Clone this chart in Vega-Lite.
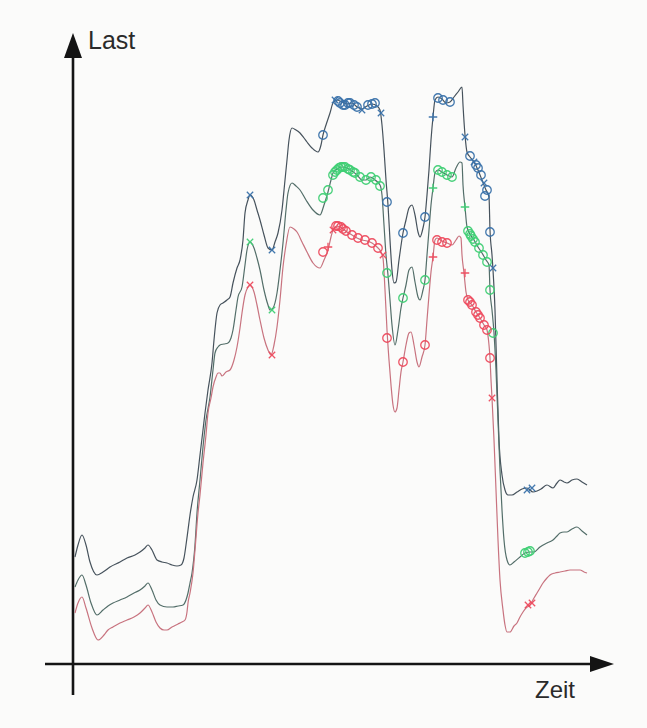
{
"$schema": "https://vega.github.io/schema/vega-lite/v6.json",
"width": 569, "height": 662,
"autosize": {"type": "none"},
"padding": {"left": 45, "top": 33, "right": 33, "bottom": 33},
"background": "#fbfbfa",
"config": {"view": {"stroke": null}},
"datasets": {
"lines": [
{"s":"B","t":2,"l":107},{"s":"B","t":5,"l":119},{"s":"B","t":9,"l":129},{"s":"B","t":13,"l":119},{"s":"B","t":17,"l":102},{"s":"B","t":24,"l":89},{"s":"B","t":30,"l":92},{"s":"B","t":37,"l":97},{"s":"B","t":47,"l":102},{"s":"B","t":54,"l":106},{"s":"B","t":62,"l":109},{"s":"B","t":67,"l":112},{"s":"B","t":72,"l":116},{"s":"B","t":75,"l":119},{"s":"B","t":79,"l":114},{"s":"B","t":84,"l":104},{"s":"B","t":89,"l":102},{"s":"B","t":94,"l":101},{"s":"B","t":99,"l":99},{"s":"B","t":104,"l":98},{"s":"B","t":108,"l":99},{"s":"B","t":111,"l":106},{"s":"B","t":113,"l":119},{"s":"B","t":115,"l":134},{"s":"B","t":117,"l":149},{"s":"B","t":120,"l":167},{"s":"B","t":124,"l":184},{"s":"B","t":127,"l":209},{"s":"B","t":130,"l":234},{"s":"B","t":132,"l":251},{"s":"B","t":135,"l":274},{"s":"B","t":139,"l":301},{"s":"B","t":141,"l":324},{"s":"B","t":144,"l":351},{"s":"B","t":147,"l":359},{"s":"B","t":150,"l":361},{"s":"B","t":154,"l":364},{"s":"B","t":157,"l":367},{"s":"B","t":160,"l":381},{"s":"B","t":164,"l":396},{"s":"B","t":167,"l":404},{"s":"B","t":170,"l":424},{"s":"B","t":172,"l":451},{"s":"B","t":175,"l":464},{"s":"B","t":177,"l":469},{"s":"B","t":181,"l":464},{"s":"B","t":184,"l":454},{"s":"B","t":187,"l":444},{"s":"B","t":191,"l":429},{"s":"B","t":195,"l":416},{"s":"B","t":199,"l":414},{"s":"B","t":202,"l":422},{"s":"B","t":205,"l":431},{"s":"B","t":209,"l":454},{"s":"B","t":212,"l":484},{"s":"B","t":214,"l":504},{"s":"B","t":216,"l":524},{"s":"B","t":219,"l":536},{"s":"B","t":223,"l":534},{"s":"B","t":227,"l":531},{"s":"B","t":231,"l":526},{"s":"B","t":234,"l":522},{"s":"B","t":239,"l":516},{"s":"B","t":245,"l":512},{"s":"B","t":248,"l":519},{"s":"B","t":250,"l":529},{"s":"B","t":253,"l":539},{"s":"B","t":257,"l":551},{"s":"B","t":260,"l":561},{"s":"B","t":264,"l":564},{"s":"B","t":269,"l":562},{"s":"B","t":274,"l":560},{"s":"B","t":279,"l":561},{"s":"B","t":284,"l":557},{"s":"B","t":289,"l":555},{"s":"B","t":294,"l":558},{"s":"B","t":299,"l":560},{"s":"B","t":304,"l":558},{"s":"B","t":307,"l":554},{"s":"B","t":309,"l":539},{"s":"B","t":311,"l":514},{"s":"B","t":313,"l":484},{"s":"B","t":315,"l":459},{"s":"B","t":317,"l":424},{"s":"B","t":319,"l":394},{"s":"B","t":321,"l":381},{"s":"B","t":323,"l":382},{"s":"B","t":326,"l":404},{"s":"B","t":330,"l":431},{"s":"B","t":333,"l":444},{"s":"B","t":336,"l":456},{"s":"B","t":339,"l":459},{"s":"B","t":342,"l":449},{"s":"B","t":345,"l":432},{"s":"B","t":347,"l":427},{"s":"B","t":350,"l":436},{"s":"B","t":352,"l":447},{"s":"B","t":354,"l":469},{"s":"B","t":356,"l":494},{"s":"B","t":358,"l":524},{"s":"B","t":360,"l":547},{"s":"B","t":362,"l":564},{"s":"B","t":365,"l":567},{"s":"B","t":369,"l":565},{"s":"B","t":373,"l":561},{"s":"B","t":377,"l":562},{"s":"B","t":381,"l":567},{"s":"B","t":385,"l":572},{"s":"B","t":389,"l":577},{"s":"B","t":390,"l":559},{"s":"B","t":392,"l":529},{"s":"B","t":394,"l":512},{"s":"B","t":397,"l":507},{"s":"B","t":401,"l":502},{"s":"B","t":405,"l":494},{"s":"B","t":409,"l":484},{"s":"B","t":413,"l":474},{"s":"B","t":416,"l":467},{"s":"B","t":417,"l":434},{"s":"B","t":419,"l":409},{"s":"B","t":420,"l":394},{"s":"B","t":422,"l":354},{"s":"B","t":424,"l":284},{"s":"B","t":426,"l":224},{"s":"B","t":429,"l":189},{"s":"B","t":432,"l":174},{"s":"B","t":435,"l":169},{"s":"B","t":439,"l":169},{"s":"B","t":444,"l":172},{"s":"B","t":449,"l":175},{"s":"B","t":454,"l":176},{"s":"B","t":460,"l":172},{"s":"B","t":464,"l":173},{"s":"B","t":468,"l":175},{"s":"B","t":474,"l":179},{"s":"B","t":480,"l":176},{"s":"B","t":484,"l":181},{"s":"B","t":487,"l":184},{"s":"B","t":491,"l":182},{"s":"B","t":494,"l":181},{"s":"B","t":499,"l":184},{"s":"B","t":504,"l":185},{"s":"B","t":509,"l":182},{"s":"B","t":514,"l":179},
{"s":"G","t":2,"l":77},{"s":"G","t":5,"l":84},{"s":"G","t":9,"l":89},{"s":"G","t":13,"l":79},{"s":"G","t":18,"l":61},{"s":"G","t":24,"l":49},{"s":"G","t":30,"l":54},{"s":"G","t":35,"l":58},{"s":"G","t":40,"l":61},{"s":"G","t":47,"l":64},{"s":"G","t":54,"l":67},{"s":"G","t":61,"l":71},{"s":"G","t":67,"l":74},{"s":"G","t":72,"l":78},{"s":"G","t":75,"l":81},{"s":"G","t":79,"l":74},{"s":"G","t":83,"l":64},{"s":"G","t":87,"l":59},{"s":"G","t":94,"l":57},{"s":"G","t":100,"l":57},{"s":"G","t":105,"l":58},{"s":"G","t":110,"l":59},{"s":"G","t":113,"l":64},{"s":"G","t":115,"l":71},{"s":"G","t":117,"l":81},{"s":"G","t":119,"l":91},{"s":"G","t":122,"l":119},{"s":"G","t":124,"l":151},{"s":"G","t":127,"l":184},{"s":"G","t":130,"l":217},{"s":"G","t":133,"l":244},{"s":"G","t":137,"l":267},{"s":"G","t":140,"l":294},{"s":"G","t":142,"l":311},{"s":"G","t":145,"l":317},{"s":"G","t":147,"l":319},{"s":"G","t":151,"l":320},{"s":"G","t":155,"l":321},{"s":"G","t":158,"l":326},{"s":"G","t":160,"l":334},{"s":"G","t":163,"l":354},{"s":"G","t":165,"l":367},{"s":"G","t":169,"l":377},{"s":"G","t":172,"l":399},{"s":"G","t":174,"l":414},{"s":"G","t":177,"l":422},{"s":"G","t":181,"l":416},{"s":"G","t":184,"l":406},{"s":"G","t":187,"l":394},{"s":"G","t":191,"l":374},{"s":"G","t":195,"l":359},{"s":"G","t":197,"l":354},{"s":"G","t":200,"l":356},{"s":"G","t":204,"l":371},{"s":"G","t":207,"l":394},{"s":"G","t":210,"l":421},{"s":"G","t":213,"l":454},{"s":"G","t":215,"l":471},{"s":"G","t":219,"l":481},{"s":"G","t":223,"l":478},{"s":"G","t":227,"l":474},{"s":"G","t":233,"l":464},{"s":"G","t":240,"l":454},{"s":"G","t":247,"l":449},{"s":"G","t":251,"l":459},{"s":"G","t":255,"l":472},{"s":"G","t":258,"l":484},{"s":"G","t":260,"l":491},{"s":"G","t":264,"l":495},{"s":"G","t":269,"l":497},{"s":"G","t":274,"l":496},{"s":"G","t":279,"l":493},{"s":"G","t":284,"l":489},{"s":"G","t":289,"l":484},{"s":"G","t":293,"l":484},{"s":"G","t":297,"l":487},{"s":"G","t":302,"l":484},{"s":"G","t":307,"l":479},{"s":"G","t":309,"l":469},{"s":"G","t":311,"l":439},{"s":"G","t":313,"l":409},{"s":"G","t":315,"l":389},{"s":"G","t":317,"l":364},{"s":"G","t":319,"l":339},{"s":"G","t":322,"l":319},{"s":"G","t":325,"l":334},{"s":"G","t":328,"l":356},{"s":"G","t":330,"l":366},{"s":"G","t":333,"l":379},{"s":"G","t":336,"l":394},{"s":"G","t":339,"l":397},{"s":"G","t":342,"l":382},{"s":"G","t":345,"l":367},{"s":"G","t":347,"l":364},{"s":"G","t":350,"l":374},{"s":"G","t":352,"l":384},{"s":"G","t":354,"l":409},{"s":"G","t":356,"l":434},{"s":"G","t":358,"l":459},{"s":"G","t":360,"l":476},{"s":"G","t":362,"l":491},{"s":"G","t":365,"l":494},{"s":"G","t":369,"l":492},{"s":"G","t":374,"l":489},{"s":"G","t":379,"l":487},{"s":"G","t":383,"l":496},{"s":"G","t":387,"l":502},{"s":"G","t":389,"l":501},{"s":"G","t":390,"l":479},{"s":"G","t":392,"l":457},{"s":"G","t":394,"l":437},{"s":"G","t":397,"l":430},{"s":"G","t":401,"l":424},{"s":"G","t":405,"l":417},{"s":"G","t":409,"l":411},{"s":"G","t":413,"l":404},{"s":"G","t":416,"l":399},{"s":"G","t":417,"l":374},{"s":"G","t":419,"l":354},{"s":"G","t":421,"l":331},{"s":"G","t":423,"l":294},{"s":"G","t":425,"l":244},{"s":"G","t":427,"l":194},{"s":"G","t":429,"l":154},{"s":"G","t":431,"l":124},{"s":"G","t":434,"l":104},{"s":"G","t":437,"l":99},{"s":"G","t":441,"l":102},{"s":"G","t":447,"l":107},{"s":"G","t":452,"l":111},{"s":"G","t":457,"l":112},{"s":"G","t":461,"l":112},{"s":"G","t":467,"l":117},{"s":"G","t":474,"l":121},{"s":"G","t":480,"l":124},{"s":"G","t":484,"l":128},{"s":"G","t":487,"l":131},{"s":"G","t":491,"l":132},{"s":"G","t":494,"l":132},{"s":"G","t":499,"l":135},{"s":"G","t":504,"l":137},{"s":"G","t":509,"l":133},{"s":"G","t":514,"l":129},
{"s":"R","t":2,"l":51},{"s":"R","t":5,"l":61},{"s":"R","t":9,"l":67},{"s":"R","t":13,"l":56},{"s":"R","t":19,"l":36},{"s":"R","t":25,"l":24},{"s":"R","t":31,"l":29},{"s":"R","t":35,"l":34},{"s":"R","t":40,"l":37},{"s":"R","t":47,"l":41},{"s":"R","t":54,"l":44},{"s":"R","t":61,"l":47},{"s":"R","t":67,"l":51},{"s":"R","t":72,"l":56},{"s":"R","t":75,"l":59},{"s":"R","t":79,"l":52},{"s":"R","t":83,"l":42},{"s":"R","t":87,"l":36},{"s":"R","t":91,"l":34},{"s":"R","t":94,"l":34},{"s":"R","t":99,"l":37},{"s":"R","t":105,"l":40},{"s":"R","t":109,"l":42},{"s":"R","t":112,"l":44},{"s":"R","t":114,"l":52},{"s":"R","t":115,"l":61},{"s":"R","t":117,"l":71},{"s":"R","t":120,"l":91},{"s":"R","t":122,"l":114},{"s":"R","t":125,"l":151},{"s":"R","t":127,"l":169},{"s":"R","t":130,"l":201},{"s":"R","t":133,"l":229},{"s":"R","t":135,"l":251},{"s":"R","t":138,"l":266},{"s":"R","t":140,"l":277},{"s":"R","t":143,"l":287},{"s":"R","t":145,"l":291},{"s":"R","t":147,"l":291},{"s":"R","t":149,"l":288},{"s":"R","t":153,"l":292},{"s":"R","t":157,"l":294},{"s":"R","t":161,"l":304},{"s":"R","t":164,"l":317},{"s":"R","t":167,"l":336},{"s":"R","t":169,"l":351},{"s":"R","t":172,"l":369},{"s":"R","t":175,"l":377},{"s":"R","t":177,"l":379},{"s":"R","t":181,"l":372},{"s":"R","t":184,"l":359},{"s":"R","t":187,"l":344},{"s":"R","t":191,"l":326},{"s":"R","t":195,"l":314},{"s":"R","t":198,"l":309},{"s":"R","t":201,"l":319},{"s":"R","t":204,"l":337},{"s":"R","t":207,"l":364},{"s":"R","t":210,"l":397},{"s":"R","t":213,"l":419},{"s":"R","t":217,"l":437},{"s":"R","t":221,"l":435},{"s":"R","t":224,"l":432},{"s":"R","t":229,"l":422},{"s":"R","t":234,"l":412},{"s":"R","t":240,"l":401},{"s":"R","t":247,"l":396},{"s":"R","t":251,"l":404},{"s":"R","t":255,"l":414},{"s":"R","t":258,"l":427},{"s":"R","t":260,"l":434},{"s":"R","t":264,"l":438},{"s":"R","t":269,"l":436},{"s":"R","t":274,"l":432},{"s":"R","t":279,"l":429},{"s":"R","t":284,"l":426},{"s":"R","t":289,"l":424},{"s":"R","t":294,"l":423},{"s":"R","t":299,"l":421},{"s":"R","t":304,"l":417},{"s":"R","t":308,"l":412},{"s":"R","t":310,"l":406},{"s":"R","t":312,"l":374},{"s":"R","t":314,"l":334},{"s":"R","t":316,"l":304},{"s":"R","t":318,"l":279},{"s":"R","t":320,"l":259},{"s":"R","t":322,"l":252},{"s":"R","t":324,"l":256},{"s":"R","t":326,"l":274},{"s":"R","t":328,"l":292},{"s":"R","t":330,"l":302},{"s":"R","t":333,"l":319},{"s":"R","t":336,"l":331},{"s":"R","t":338,"l":332},{"s":"R","t":341,"l":319},{"s":"R","t":344,"l":302},{"s":"R","t":346,"l":297},{"s":"R","t":349,"l":307},{"s":"R","t":352,"l":319},{"s":"R","t":354,"l":344},{"s":"R","t":356,"l":369},{"s":"R","t":358,"l":392},{"s":"R","t":360,"l":407},{"s":"R","t":362,"l":424},{"s":"R","t":364,"l":426},{"s":"R","t":369,"l":423},{"s":"R","t":374,"l":421},{"s":"R","t":379,"l":419},{"s":"R","t":383,"l":424},{"s":"R","t":386,"l":428},{"s":"R","t":388,"l":426},{"s":"R","t":389,"l":409},{"s":"R","t":391,"l":391},{"s":"R","t":393,"l":372},{"s":"R","t":395,"l":364},{"s":"R","t":399,"l":359},{"s":"R","t":403,"l":352},{"s":"R","t":407,"l":346},{"s":"R","t":411,"l":339},{"s":"R","t":414,"l":334},{"s":"R","t":416,"l":319},{"s":"R","t":417,"l":306},{"s":"R","t":418,"l":284},{"s":"R","t":419,"l":266},{"s":"R","t":421,"l":224},{"s":"R","t":423,"l":174},{"s":"R","t":425,"l":124},{"s":"R","t":427,"l":84},{"s":"R","t":430,"l":54},{"s":"R","t":432,"l":39},{"s":"R","t":434,"l":32},{"s":"R","t":437,"l":32},{"s":"R","t":441,"l":38},{"s":"R","t":444,"l":41},{"s":"R","t":447,"l":47},{"s":"R","t":450,"l":52},{"s":"R","t":453,"l":56},{"s":"R","t":457,"l":59},{"s":"R","t":461,"l":66},{"s":"R","t":464,"l":71},{"s":"R","t":467,"l":76},{"s":"R","t":470,"l":81},{"s":"R","t":474,"l":86},{"s":"R","t":477,"l":89},{"s":"R","t":482,"l":91},{"s":"R","t":487,"l":92},{"s":"R","t":492,"l":93},{"s":"R","t":497,"l":94},{"s":"R","t":502,"l":94},{"s":"R","t":507,"l":94},{"s":"R","t":511,"l":92},{"s":"R","t":514,"l":91}
],
"marks": [
{"s":"B","m":"x","t":177,"l":469},{"s":"B","m":"x","t":199,"l":414},{"s":"B","m":"o","t":250,"l":529},{"s":"B","m":"x","t":262,"l":564},{"s":"B","m":"o","t":265,"l":563},{"s":"B","m":"o","t":267,"l":561},{"s":"B","m":"o","t":270,"l":559},{"s":"B","m":"o","t":272,"l":559},{"s":"B","m":"o","t":275,"l":561},{"s":"B","m":"o","t":277,"l":561},{"s":"B","m":"o","t":281,"l":559},{"s":"B","m":"o","t":284,"l":557},{"s":"B","m":"x","t":289,"l":554},{"s":"B","m":"o","t":295,"l":559},{"s":"B","m":"o","t":299,"l":560},{"s":"B","m":"o","t":302,"l":561},{"s":"B","m":"x","t":308,"l":551},{"s":"B","m":"o","t":314,"l":462},{"s":"B","m":"o","t":330,"l":431},{"s":"B","m":"o","t":352,"l":447},{"s":"B","m":"+","t":360,"l":547},{"s":"B","m":"o","t":365,"l":566},{"s":"B","m":"o","t":370,"l":564},{"s":"B","m":"o","t":377,"l":562},{"s":"B","m":"x","t":392,"l":527},{"s":"B","m":"o","t":397,"l":508},{"s":"B","m":"x","t":401,"l":502},{"s":"B","m":"o","t":403,"l":499},{"s":"B","m":"o","t":405,"l":496},{"s":"B","m":"o","t":408,"l":489},{"s":"B","m":"x","t":411,"l":481},{"s":"B","m":"o","t":414,"l":474},{"s":"B","m":"o","t":412,"l":468},{"s":"B","m":"o","t":417,"l":432},{"s":"B","m":"x","t":420,"l":396},{"s":"B","m":"x","t":454,"l":174},{"s":"B","m":"x","t":459,"l":176},
{"s":"G","m":"x","t":177,"l":422},{"s":"G","m":"x","t":199,"l":354},{"s":"G","m":"o","t":250,"l":466},{"s":"G","m":"o","t":255,"l":474},{"s":"G","m":"o","t":260,"l":489},{"s":"G","m":"o","t":262,"l":492},{"s":"G","m":"o","t":264,"l":494},{"s":"G","m":"o","t":266,"l":496},{"s":"G","m":"o","t":268,"l":497},{"s":"G","m":"o","t":270,"l":497},{"s":"G","m":"o","t":272,"l":497},{"s":"G","m":"o","t":275,"l":495},{"s":"G","m":"o","t":277,"l":494},{"s":"G","m":"o","t":280,"l":492},{"s":"G","m":"o","t":282,"l":491},{"s":"G","m":"o","t":287,"l":487},{"s":"G","m":"o","t":293,"l":484},{"s":"G","m":"o","t":298,"l":487},{"s":"G","m":"o","t":303,"l":484},{"s":"G","m":"o","t":307,"l":478},{"s":"G","m":"o","t":314,"l":391},{"s":"G","m":"o","t":330,"l":366},{"s":"G","m":"o","t":352,"l":384},{"s":"G","m":"+","t":360,"l":476},{"s":"G","m":"o","t":365,"l":494},{"s":"G","m":"o","t":369,"l":492},{"s":"G","m":"o","t":374,"l":489},{"s":"G","m":"o","t":379,"l":487},{"s":"G","m":"+","t":392,"l":457},{"s":"G","m":"o","t":395,"l":433},{"s":"G","m":"o","t":397,"l":430},{"s":"G","m":"o","t":398,"l":428},{"s":"G","m":"o","t":400,"l":425},{"s":"G","m":"o","t":402,"l":422},{"s":"G","m":"o","t":406,"l":416},{"s":"G","m":"o","t":410,"l":409},{"s":"G","m":"o","t":414,"l":402},{"s":"G","m":"o","t":417,"l":374},{"s":"G","m":"o","t":420,"l":331},{"s":"G","m":"o","t":452,"l":111},{"s":"G","m":"o","t":455,"l":112},{"s":"G","m":"o","t":457,"l":113},
{"s":"R","m":"x","t":177,"l":379},{"s":"R","m":"x","t":199,"l":309},{"s":"R","m":"o","t":250,"l":412},{"s":"R","m":"+","t":255,"l":417},{"s":"R","m":"x","t":260,"l":434},{"s":"R","m":"o","t":263,"l":438},{"s":"R","m":"o","t":265,"l":438},{"s":"R","m":"o","t":268,"l":437},{"s":"R","m":"o","t":270,"l":435},{"s":"R","m":"o","t":273,"l":433},{"s":"R","m":"o","t":279,"l":429},{"s":"R","m":"o","t":285,"l":426},{"s":"R","m":"o","t":292,"l":424},{"s":"R","m":"o","t":299,"l":421},{"s":"R","m":"o","t":305,"l":416},{"s":"R","m":"x","t":310,"l":409},{"s":"R","m":"o","t":314,"l":326},{"s":"R","m":"o","t":330,"l":302},{"s":"R","m":"o","t":352,"l":319},{"s":"R","m":"+","t":360,"l":407},{"s":"R","m":"o","t":364,"l":424},{"s":"R","m":"o","t":369,"l":422},{"s":"R","m":"o","t":374,"l":421},{"s":"R","m":"+","t":392,"l":391},{"s":"R","m":"o","t":395,"l":364},{"s":"R","m":"o","t":397,"l":362},{"s":"R","m":"o","t":399,"l":359},{"s":"R","m":"o","t":403,"l":352},{"s":"R","m":"o","t":405,"l":349},{"s":"R","m":"o","t":407,"l":346},{"s":"R","m":"o","t":411,"l":339},{"s":"R","m":"o","t":414,"l":334},{"s":"R","m":"o","t":417,"l":306},{"s":"R","m":"x","t":419,"l":266},{"s":"R","m":"x","t":455,"l":59},{"s":"R","m":"x","t":459,"l":61}
]
},
"layer": [
{"data": {"values": [{"t": 0, "l": -31, "l2": 610}]},
 "mark": {"type": "rule", "color": "#141414", "strokeWidth": 2.6},
 "encoding": {
  "x": {"field": "t", "type": "quantitative", "axis": null, "scale": {"domain": [-28, 541], "nice": false, "zero": false}},
  "y": {"field": "l", "type": "quantitative", "axis": null, "scale": {"domain": [-31, 631], "nice": false, "zero": false}},
  "y2": {"field": "l2"}}},
{"data": {"values": [{"t": -28, "t2": 520, "l": 0}]},
 "mark": {"type": "rule", "color": "#141414", "strokeWidth": 2.6},
 "encoding": {
  "x": {"field": "t", "type": "quantitative", "axis": null},
  "x2": {"field": "t2"},
  "y": {"field": "l", "type": "quantitative", "axis": null}}},
{"data": {"values": [{"t": 0, "l": 631}]},
 "mark": {"type": "point", "filled": true, "color": "#141414", "opacity": 1, "size": 2500, "shape": "M0,0L0.36,1L-0.36,1Z"},
 "encoding": {
  "x": {"field": "t", "type": "quantitative", "axis": null},
  "y": {"field": "l", "type": "quantitative", "axis": null}}},
{"data": {"values": [{"t": 541, "l": 0}]},
 "mark": {"type": "point", "filled": true, "color": "#141414", "opacity": 1, "size": 2304, "shape": "M0,0L-1,-0.33L-1,0.33Z"},
 "encoding": {
  "x": {"field": "t", "type": "quantitative", "axis": null},
  "y": {"field": "l", "type": "quantitative", "axis": null}}},
{"data": {"values": [{"label": "Last", "t": 15, "l": 615}]},
 "mark": {"type": "text", "align": "left", "baseline": "alphabetic", "font": "Liberation Sans", "fontSize": 25, "color": "#2a2a2a"},
 "encoding": {
  "x": {"field": "t", "type": "quantitative", "axis": null},
  "y": {"field": "l", "type": "quantitative", "axis": null},
  "text": {"field": "label"}}},
{"data": {"values": [{"label": "Zeit", "t": 462, "l": -34}]},
 "mark": {"type": "text", "align": "left", "baseline": "alphabetic", "font": "Liberation Sans", "fontSize": 24, "color": "#2a2a2a"},
 "encoding": {
  "x": {"field": "t", "type": "quantitative", "axis": null},
  "y": {"field": "l", "type": "quantitative", "axis": null},
  "text": {"field": "label"}}},
{"data": {"name": "lines"},
 "mark": {"type": "line", "strokeWidth": 1.2, "interpolate": "monotone"},
 "encoding": {
  "x": {"field": "t", "type": "quantitative", "axis": null},
  "y": {"field": "l", "type": "quantitative", "axis": null},
  "detail": {"field": "s"},
  "color": {"field": "s", "type": "nominal", "legend": null, "scale": {"domain": ["B", "G", "R"], "range": ["#46525c", "#536e69", "#c8737f"]}}}},
{"data": {"name": "marks"},
 "mark": {"type": "point", "filled": false, "strokeWidth": 1.3, "size": 72, "opacity": 0.95},
 "encoding": {
  "x": {"field": "t", "type": "quantitative", "axis": null},
  "y": {"field": "l", "type": "quantitative", "axis": null},
  "shape": {"field": "m", "type": "nominal", "legend": null, "scale": {"domain": ["o", "x", "+"], "range": ["circle", "M-0.75,-0.75L0.75,0.75M-0.75,0.75L0.75,-0.75", "M-1,0L1,0M0,-1L0,1"]}},
  "stroke": {"field": "s", "type": "nominal", "legend": null, "scale": {"domain": ["B", "G", "R"], "range": ["#3a72aa", "#3fcf74", "#ee4b5e"]}}}}
]
}
